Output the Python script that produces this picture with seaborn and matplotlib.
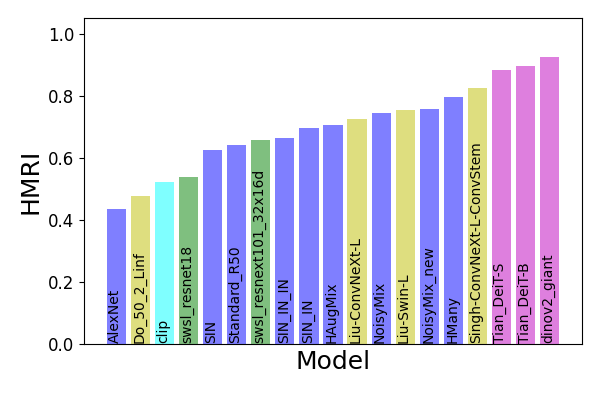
import pandas as pd
import seaborn as sns
import matplotlib
matplotlib.use("Agg")
import matplotlib.pyplot as plt

models = ["AlexNet", "Do_50_2_Linf", "clip", "swsl_resnet18", "SIN", "Standard_R50",
          "swsl_resnext101_32x16d", "SIN_IN_IN", "SIN_IN", "HAugMix", "Liu-ConvNeXt-L",
          "NoisyMix", "Liu-Swin-L", "NoisyMix_new", "HMany", "Singh-ConvNeXt-L-ConvStem",
          "Tian_DeiT-S", "Tian_DeiT-B", "dinov2_giant"]
hmri = [0.435, 0.477, 0.523, 0.539, 0.626, 0.642, 0.658, 0.665, 0.697, 0.706, 0.726,
        0.745, 0.755, 0.758, 0.794, 0.823, 0.884, 0.897, 0.923]
# matplotlib single-letter colours, written out (seaborn remaps the letters)
blue, yellow, cyan, green, magenta = "#0000ff", "#bfbf00", "#00ffff", "#008000", "#bf00bf"
colors = [blue, yellow, cyan, green, blue, blue, green, blue, blue, blue, yellow,
          blue, yellow, blue, blue, yellow, magenta, magenta, magenta]

df = pd.DataFrame({"Model": models, "HMRI": hmri})

fig, ax = plt.subplots(figsize=(6, 4), dpi=100)
sns.barplot(data=df, x="Model", y="HMRI", hue="Model", palette=colors,
            saturation=1, alpha=0.5, width=0.8, legend=False, ax=ax)
ax.set_xlim(-1.34, len(models) - 1 + 1.34)
ax.set_ylim(0, 1.05)

# model names written inside the bars
for i, name in enumerate(models):
    ax.text(i - 0.05, 0.003, name, rotation=90, ha="center", va="bottom", fontsize=10)

ax.set_xticks([])
ax.tick_params(axis="y", labelsize=12)
ax.set_xlabel("Model", fontsize=18)
ax.set_ylabel("HMRI", fontsize=18)

fig.subplots_adjust(left=0.14, right=0.97, top=0.955, bottom=0.14)
plt.savefig("out.png", dpi=100)
